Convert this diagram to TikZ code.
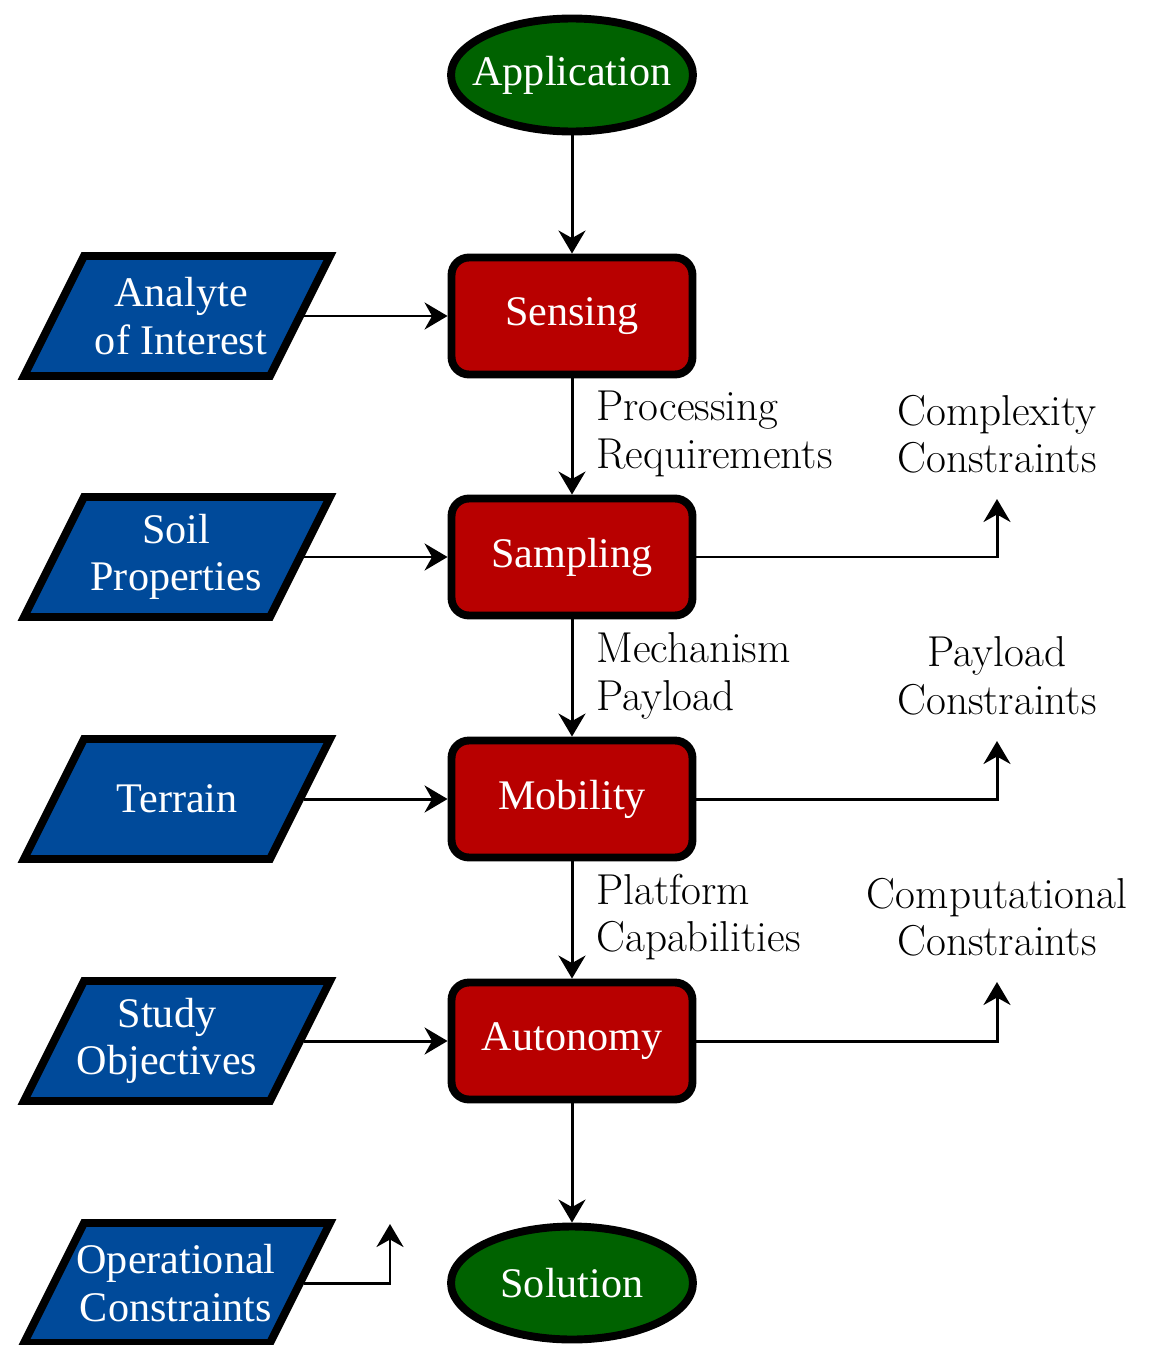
\documentclass[tikz,border=0pt]{standalone}
\usepackage{fontspec}
\newfontfamily\tnrfam{Liberation Serif}
\usetikzlibrary{shapes.geometric,arrows.meta}
\definecolor{dgreen}{RGB}{0,98,0}
\definecolor{dred}{RGB}{184,0,0}
\definecolor{dblue}{RGB}{0,74,154}
\newcommand\bxfont{\tnrfam\fontsize{24}{27}\selectfont}
\newcommand\lbfont{\fontsize{24.6}{27}\selectfont}
\newcommand\parabox[5]{%
  \draw[pbox] (#2-93,#3-60) -- (#2+153,#3-60) -- (#2+93,#3+60) -- (#2-153,#3+60) -- cycle;
  \node[ptext] (#1) at (#2+#5,#3) {#4};
  \coordinate (#1-e) at (#2+127,#3);}
\begin{document}
\begin{tikzpicture}[x=0.02cm,y=-0.02cm,
  term/.style={ellipse, draw=black, line width=4.5pt, fill=dgreen, minimum width=4.84cm, minimum height=2.26cm, inner sep=0pt, text=white, font=\bxfont},
  proc/.style={rectangle, rounded corners=0.35cm, draw=black, line width=4.5pt, fill=dred, minimum width=4.82cm, minimum height=2.34cm, inner sep=0pt, text=white, font=\bxfont},
  ptext/.style={text=white, font=\bxfont, align=center, inner sep=0pt},
  pbox/.style={draw=black, line width=4.5pt, fill=dblue, line join=miter},
  flow/.style={-{Stealth[length=0.46cm,width=0.54cm,inset=0.15cm]}, line width=1.7pt},
  lab/.style={font=\lbfont, inner sep=0pt}]
\useasboundingbox (0,0) rectangle (1150,1345);

% main column
\node[term] (app) at (572,75) {\makebox[0pt]{Application}};
\node[proc] (sens) at (572,316) {Sensing};
\node[proc] (samp) at (572,557) {Sampling};
\node[proc] (mob) at (572,799) {Mobility};
\node[proc] (aut) at (572,1041) {Autonomy};
\node[term] (sol) at (572,1283) {\makebox[0pt]{Solution}};

% inputs
\parabox{ana}{177}{316}{Analyte\\of Interest}{4}
\parabox{soil}{177}{557}{Soil\\Properties}{-1}
\parabox{ter}{177}{799}{Terrain}{0}
\parabox{stu}{177}{1041}{Study\\Objectives}{-10}
\parabox{ope}{177}{1283}{Operational\\Constraints}{-1}

% vertical flow
\draw[flow] (app) -- (sens);
\draw[flow] (sens) -- (samp);
\draw[flow] (samp) -- (mob);
\draw[flow] (mob) -- (aut);
\draw[flow] (aut) -- (sol);

% input arrows
\draw[flow] (ana-e) -- (sens);
\draw[flow] (soil-e) -- (samp);
\draw[flow] (ter-e) -- (mob);
\draw[flow] (stu-e) -- (aut);
\coordinate (opeup) at (390,1224);
\draw[flow] (ope-e) -| (opeup);

% output arrows
\coordinate (c1) at (997,499);
\coordinate (c2) at (997,741);
\coordinate (c3) at (997,982);
\draw[flow] (samp) -| (c1);
\draw[flow] (mob) -| (c2);
\draw[flow] (aut) -| (c3);

% labels
\node[lab, anchor=west, align=left] (l1) at (596,434) {Processing\\Requirements};
\node[lab, anchor=west, align=left] (l2) at (596,676) {Mechanism\\Payload};
\node[lab, anchor=west, align=left] (l3) at (596,917) {Platform\\Capabilities};
\node[lab, align=center] (r1) at (997,434) {Complexity\\Constraints};
\node[lab, align=center] (r2) at (997,676) {Payload\\Constraints};
\node[lab, align=center] (r3) at (997,917) {Computational\\Constraints};
\end{tikzpicture}
\end{document}
